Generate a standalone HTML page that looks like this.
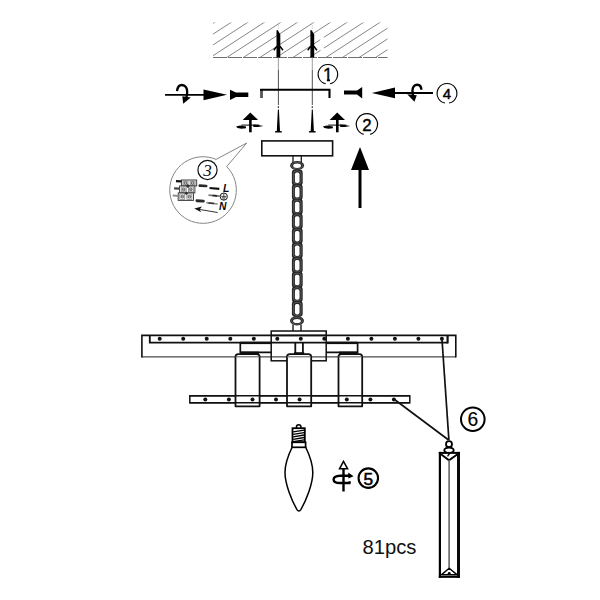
<!DOCTYPE html>
<html lang="en"><head><meta charset="utf-8"><title>Assembly diagram</title>
<style>
html,body{margin:0;padding:0;background:#fff;}
body{width:600px;height:600px;overflow:hidden;font-family:"Liberation Sans",sans-serif;}
svg{display:block;}
</style></head>
<body>
<svg width="600" height="600" viewBox="0 0 600 600">
<rect width="600" height="600" fill="#fff"/>
<defs><clipPath id="one"><path d="M315 60 H340 V78.3 H329.9 V84 H326.9 V78.3 H315 Z"/></clipPath><clipPath id="hc"><rect x="213" y="22.5" width="174.5" height="35"/></clipPath></defs>
<path clip-path="url(#hc)" d="M144.1 57.5 L204.1 18.5 M160.6 57.5 L220.6 18.5 M177.1 57.5 L237.1 18.5 M193.7 57.5 L253.7 18.5 M210.2 57.5 L270.2 18.5 M226.7 57.5 L286.7 18.5 M243.3 57.5 L303.3 18.5 M259.8 57.5 L319.8 18.5 M276.3 57.5 L336.3 18.5 M292.9 57.5 L352.9 18.5 M309.4 57.5 L369.4 18.5 M325.9 57.5 L385.9 18.5 M342.4 57.5 L402.4 18.5 M359.0 57.5 L419.0 18.5 M375.5 57.5 L435.5 18.5 M392.0 57.5 L452.0 18.5" stroke="#707070" stroke-width="0.85" fill="none"/>
<rect x="320.3" y="33" width="3.6" height="17.5" fill="#fff"/>
<line x1="213" y1="57.5" x2="387.5" y2="57.5" stroke="#6f6f6f" stroke-width="1" stroke-dasharray="14 1"/>
<path d="M276.5 57.5 L276.5 30.2 L277.6 30 L280.3 34.5 L280.3 57.5 Z" fill="#000"/>
<path d="M273.8 50.3 L276.9 46.3 M283.0 50.3 L279.9 46.3" stroke="#000" stroke-width="1.5" fill="none"/>
<line x1="278.4" y1="22.5" x2="278.4" y2="31" stroke="#bbb" stroke-width="0.7" stroke-dasharray="1.5 1"/>
<line x1="278.4" y1="57.5" x2="278.4" y2="70" stroke="#888" stroke-width="0.8"/>
<line x1="278.4" y1="70" x2="278.4" y2="105" stroke="#444" stroke-width="0.95"/>
<line x1="278.4" y1="106.3" x2="278.4" y2="108" stroke="#333" stroke-width="1.2"/>
<path d="M277.9 109.5 L278.9 109.5 L280.0 131 L281.8 131.3 L281.8 132.5 L275.0 132.5 L275.0 131.3 L276.8 131 Z" fill="#000"/>
<path d="M310.4 57.5 L310.4 30.2 L311.5 30 L314.2 34.5 L314.2 57.5 Z" fill="#000"/>
<path d="M307.7 50.3 L310.8 46.3 M316.9 50.3 L313.8 46.3" stroke="#000" stroke-width="1.5" fill="none"/>
<line x1="312.3" y1="22.5" x2="312.3" y2="31" stroke="#bbb" stroke-width="0.7" stroke-dasharray="1.5 1"/>
<line x1="312.3" y1="57.5" x2="312.3" y2="70" stroke="#888" stroke-width="0.8"/>
<line x1="312.3" y1="70" x2="312.3" y2="105" stroke="#444" stroke-width="0.95"/>
<line x1="312.3" y1="106.3" x2="312.3" y2="108" stroke="#333" stroke-width="1.2"/>
<path d="M311.8 109.5 L312.8 109.5 L313.9 131 L315.7 131.3 L315.7 132.5 L308.9 132.5 L308.9 131.3 L310.7 131 Z" fill="#000"/>
<line x1="261.5" y1="89" x2="261.5" y2="98" stroke="#555" stroke-width="2.8"/>
<path d="M260.1 89.8 L329.5 89.8 L329.5 98" stroke="#000" stroke-width="2.1" fill="none"/>
<line x1="165" y1="94.8" x2="206" y2="94.8" stroke="#000" stroke-width="1.8"/>
<path d="M203.5 89.4 L227 94.8 L203.5 100.2 Z" fill="#000"/>
<path d="M177 91.2 C177.5 86.5 180 85 182 85 C185.5 85 187.3 88.5 187.2 92 C187.1 94.5 186.8 96 186.4 97.5" stroke="#000" stroke-width="2.3" fill="none"/>
<path d="M182.3 96.3 L190.8 97.6 L183.2 103.8 Z" fill="#000"/>
<path d="M230 89.8 L236 92.6 L248.3 92.6 L248.3 97 L236 97 L230 100 Z" fill="#000"/>
<line x1="392" y1="93" x2="433" y2="93" stroke="#000" stroke-width="1.9"/>
<path d="M395 87.4 L371.8 92.9 L395 98.2 Z" fill="#000"/>
<path d="M421.4 89.8 C421.2 86.4 419.5 84.7 417.3 84.7 C414.2 84.7 412.5 87.5 412.5 90.5 C412.4 92.5 412.7 94 413 95.5" stroke="#000" stroke-width="2.4" fill="none"/>
<path d="M416.8 95.2 L407.2 94.2 L414.4 101.8 Z" fill="#000"/>
<path d="M362.2 87 L357 90.6 L344 90.6 L344 94.5 L357 94.5 L362.2 98.6 Z" fill="#000"/>
<path d="M250.3 112.6 L258.1 119.9 L242.7 119.9 Z" fill="#000"/>
<line x1="250.4" y1="119.5" x2="250.4" y2="132.3" stroke="#000" stroke-width="2.6"/>
<line x1="241.3" y1="125.1" x2="259.3" y2="125.1" stroke="#000" stroke-width="1"/>
<path d="M236.0 126.6 L240.0 125.5 L246.0 126.4 L246.0 128.3 L241.5 128.7 L237.5 127.9 Z" fill="#000"/>
<path d="M253.3 124.4 L258.0 124.9 L263.5 126 L258.0 126.9 L253.3 127 Z" fill="#000"/>
<path d="M337.2 112.6 L345.0 119.9 L329.6 119.9 Z" fill="#000"/>
<line x1="337.3" y1="119.5" x2="337.3" y2="132.3" stroke="#000" stroke-width="2.6"/>
<line x1="328.2" y1="125.1" x2="346.2" y2="125.1" stroke="#000" stroke-width="1"/>
<path d="M322.9 126.6 L326.9 125.5 L332.9 126.4 L332.9 128.3 L328.4 128.7 L324.4 127.9 Z" fill="#000"/>
<path d="M340.2 124.4 L344.9 124.9 L350.4 126 L344.9 126.9 L340.2 127 Z" fill="#000"/>
<path d="M330.09 83.80 A9.75 9.75 0 1 0 325.71 83.80" stroke="#000" stroke-width="1.1" fill="none"/>
<text x="327.9" y="80.9" font-family='"Liberation Sans", sans-serif' font-size="17.5" font-weight="normal" font-style="normal" text-anchor="middle" fill="#000" stroke="#000" stroke-width="0.3" clip-path="url(#one)">1</text>
<path d="M370.18 134.38 A10.6 10.6 0 1 0 363.62 134.38" stroke="#000" stroke-width="1.2" fill="none"/>
<text x="366.9" y="130.95" font-family='"Liberation Sans", sans-serif' font-size="16.8" font-weight="normal" font-style="normal" text-anchor="middle" fill="#000" stroke="#000" stroke-width="0.4">2</text>
<path d="M449.06 103.08 A9.9 9.9 0 1 0 444.94 103.08" stroke="#000" stroke-width="1.1" fill="none"/>
<text x="447" y="98.8" font-family='"Liberation Sans", sans-serif' font-size="15" font-weight="normal" font-style="normal" text-anchor="middle" fill="#000" stroke="#000" stroke-width="0.45">4</text>
<path d="M360 147 L369 170 L351 170 Z" fill="#000"/>
<line x1="360" y1="169" x2="360" y2="208" stroke="#000" stroke-width="3"/>
<path d="M216.1 159.4 L246.7 143 L226.7 166.6 A33.3 33.3 0 1 1 216.1 159.4 Z" stroke="#858585" stroke-width="1" fill="none"/>
<circle cx="207.5" cy="170" r="9.6" stroke="#111" stroke-width="1.2" fill="none"/>
<text x="207.5" y="175.82" font-family='"Liberation Serif", serif' font-size="17" font-weight="normal" font-style="italic" text-anchor="middle" fill="#111" stroke="#111" stroke-width="0">3</text>
<rect x="181.4" y="180" width="15.3" height="5.9" stroke="#2e2e2e" stroke-width="0.9" fill="#fafafa"/>
<rect x="183.0" y="181" width="5" height="3.9" stroke="#666" stroke-width="0.6" fill="#ececec"/>
<circle cx="185.5" cy="182.95" r="1.4" stroke="#333" stroke-width="0.7" fill="#f4f4f4"/>
<path d="M184.3 182.95 L186.7 182.95" stroke="#444" stroke-width="0.6"/>
<rect x="190.1" y="181" width="5" height="3.9" stroke="#666" stroke-width="0.6" fill="#ececec"/>
<circle cx="192.6" cy="182.95" r="1.4" stroke="#333" stroke-width="0.7" fill="#f4f4f4"/>
<path d="M191.4 182.95 L193.8 182.95" stroke="#444" stroke-width="0.6"/>
<rect x="179.6" y="185.9" width="15.3" height="7" stroke="#2e2e2e" stroke-width="0.9" fill="#fafafa"/>
<rect x="181.2" y="186.9" width="5" height="5" stroke="#666" stroke-width="0.6" fill="#ececec"/>
<circle cx="183.7" cy="189.4" r="1.4" stroke="#333" stroke-width="0.7" fill="#f4f4f4"/>
<path d="M182.5 189.4 L184.9 189.4" stroke="#444" stroke-width="0.6"/>
<rect x="188.3" y="186.9" width="5" height="5" stroke="#666" stroke-width="0.6" fill="#ececec"/>
<circle cx="190.8" cy="189.4" r="1.4" stroke="#333" stroke-width="0.7" fill="#f4f4f4"/>
<path d="M189.6 189.4 L192 189.4" stroke="#444" stroke-width="0.6"/>
<rect x="178.2" y="192.9" width="15.3" height="7.5" stroke="#2e2e2e" stroke-width="0.9" fill="#fafafa"/>
<rect x="179.8" y="193.9" width="5" height="5.5" stroke="#666" stroke-width="0.6" fill="#ececec"/>
<circle cx="182.3" cy="196.65" r="1.4" stroke="#333" stroke-width="0.7" fill="#f4f4f4"/>
<path d="M181.1 196.65 L183.5 196.65" stroke="#444" stroke-width="0.6"/>
<rect x="186.9" y="193.9" width="5" height="5.5" stroke="#666" stroke-width="0.6" fill="#ececec"/>
<circle cx="189.4" cy="196.65" r="1.4" stroke="#333" stroke-width="0.7" fill="#f4f4f4"/>
<path d="M188.2 196.65 L190.6 196.65" stroke="#444" stroke-width="0.6"/>
<path d="M187.9 183.9 L189.9 185.9 L187.9 187.9 L185.9 185.9 Z M186.3 191.7 L188.1 193.4 L186.3 195.1 L184.5 193.4 Z" fill="#333"/>
<line x1="176" y1="181.1" x2="181.4" y2="181.3" stroke="#111" stroke-width="2.3"/>
<line x1="174.1" y1="188.4" x2="179.6" y2="188.6" stroke="#444" stroke-width="2.1"/>
<line x1="172.7" y1="195.5" x2="178.2" y2="195.8" stroke="#8a8a8a" stroke-width="1.8"/>
<line x1="199.8" y1="185.7" x2="206.2" y2="186" stroke="#2a2a2a" stroke-width="2.7" stroke-linecap="round"/>
<line x1="209.5" y1="188" x2="219.3" y2="188.9" stroke="#111" stroke-width="2.1"/>
<line x1="208.5" y1="195.2" x2="219.8" y2="196.1" stroke="#777" stroke-width="1.7"/>
<line x1="212.5" y1="195.5" x2="217" y2="195.9" stroke="#222" stroke-width="1.7"/>
<line x1="196.9" y1="200.7" x2="203.4" y2="201.1" stroke="#2a2a2a" stroke-width="2.9" stroke-linecap="round"/>
<line x1="206.3" y1="202.7" x2="217.7" y2="204" stroke="#888" stroke-width="1.7"/>
<line x1="208.5" y1="203" x2="214" y2="203.6" stroke="#333" stroke-width="1.5"/>
<text x="223" y="191.8" font-family='"Liberation Sans", sans-serif' font-size="10.5" font-weight="bold" font-style="italic" fill="#0a0a0a">L</text>
<text x="218.9" y="210" font-family='"Liberation Sans", sans-serif' font-size="10.3" font-weight="bold" font-style="italic" fill="#0a0a0a">N</text>
<circle cx="223.8" cy="196.6" r="3.6" stroke="#1a1a1a" stroke-width="1" fill="none"/>
<path d="M223.8 193.4 L223.8 196.4 M221.2 196.4 L226.4 196.4 M221.9 197.8 L225.7 197.8 M222.8 199.1 L224.8 199.1" stroke="#1a1a1a" stroke-width="0.8" fill="none"/>
<path d="M217.7 212.5 L198 209.2" stroke="#333" stroke-width="1" fill="none"/>
<path d="M194.3 208.6 L202 206.6 L199.6 209.5 L201.2 212.2 Z" fill="#111"/>
<rect x="261.8" y="140.9" width="70.8" height="14.9" stroke="#111" stroke-width="1.6" fill="#fff"/>
<path d="M293 156 L293 163 M301.3 156 L301.3 163" stroke="#1a1a1a" stroke-width="1.3" fill="none"/>
<ellipse cx="297.1" cy="165.6" rx="7" ry="4.6" fill="#262626"/>
<ellipse cx="297.1" cy="165.8" rx="3.9" ry="2.2" fill="#fff"/>
<ellipse cx="297.1" cy="165.6" rx="5.5" ry="3.4" stroke="#8a8a8a" stroke-width="0.5" fill="none"/>
<rect x="292.8" y="171" width="9" height="144" fill="#262626"/>
<rect x="291.9" y="169.6" width="10.8" height="15.8" rx="3.2" ry="3.2" fill="#262626"/>
<rect x="294.9" y="172.5" width="4.6" height="10.5" rx="1.8" ry="1.8" fill="#fff"/>
<rect x="293.4" y="171.0" width="7.7" height="13" rx="2.7" ry="2.7" stroke="#8a8a8a" stroke-width="0.5" fill="none"/>
<rect x="291.9" y="184.2" width="10.8" height="15.8" rx="3.2" ry="3.2" fill="#262626"/>
<rect x="294.9" y="187.1" width="4.6" height="10.5" rx="1.8" ry="1.8" fill="#fff"/>
<rect x="293.4" y="185.6" width="7.7" height="13" rx="2.7" ry="2.7" stroke="#8a8a8a" stroke-width="0.5" fill="none"/>
<rect x="291.9" y="198.8" width="10.8" height="15.8" rx="3.2" ry="3.2" fill="#262626"/>
<rect x="294.9" y="201.7" width="4.6" height="10.5" rx="1.8" ry="1.8" fill="#fff"/>
<rect x="293.4" y="200.2" width="7.7" height="13" rx="2.7" ry="2.7" stroke="#8a8a8a" stroke-width="0.5" fill="none"/>
<rect x="291.9" y="213.4" width="10.8" height="15.8" rx="3.2" ry="3.2" fill="#262626"/>
<rect x="294.9" y="216.3" width="4.6" height="10.5" rx="1.8" ry="1.8" fill="#fff"/>
<rect x="293.4" y="214.8" width="7.7" height="13" rx="2.7" ry="2.7" stroke="#8a8a8a" stroke-width="0.5" fill="none"/>
<rect x="291.9" y="228.0" width="10.8" height="15.8" rx="3.2" ry="3.2" fill="#262626"/>
<rect x="294.9" y="230.9" width="4.6" height="10.5" rx="1.8" ry="1.8" fill="#fff"/>
<rect x="293.4" y="229.4" width="7.7" height="13" rx="2.7" ry="2.7" stroke="#8a8a8a" stroke-width="0.5" fill="none"/>
<rect x="291.9" y="242.6" width="10.8" height="15.8" rx="3.2" ry="3.2" fill="#262626"/>
<rect x="294.9" y="245.5" width="4.6" height="10.5" rx="1.8" ry="1.8" fill="#fff"/>
<rect x="293.4" y="244.0" width="7.7" height="13" rx="2.7" ry="2.7" stroke="#8a8a8a" stroke-width="0.5" fill="none"/>
<rect x="291.9" y="257.2" width="10.8" height="15.8" rx="3.2" ry="3.2" fill="#262626"/>
<rect x="294.9" y="260.1" width="4.6" height="10.5" rx="1.8" ry="1.8" fill="#fff"/>
<rect x="293.4" y="258.6" width="7.7" height="13" rx="2.7" ry="2.7" stroke="#8a8a8a" stroke-width="0.5" fill="none"/>
<rect x="291.9" y="271.8" width="10.8" height="15.8" rx="3.2" ry="3.2" fill="#262626"/>
<rect x="294.9" y="274.7" width="4.6" height="10.5" rx="1.8" ry="1.8" fill="#fff"/>
<rect x="293.4" y="273.2" width="7.7" height="13" rx="2.7" ry="2.7" stroke="#8a8a8a" stroke-width="0.5" fill="none"/>
<rect x="291.9" y="286.4" width="10.8" height="15.8" rx="3.2" ry="3.2" fill="#262626"/>
<rect x="294.9" y="289.3" width="4.6" height="10.5" rx="1.8" ry="1.8" fill="#fff"/>
<rect x="293.4" y="287.8" width="7.7" height="13" rx="2.7" ry="2.7" stroke="#8a8a8a" stroke-width="0.5" fill="none"/>
<rect x="291.9" y="301.0" width="10.8" height="15.8" rx="3.2" ry="3.2" fill="#262626"/>
<rect x="294.9" y="303.9" width="4.6" height="10.5" rx="1.8" ry="1.8" fill="#fff"/>
<rect x="293.4" y="302.4" width="7.7" height="13" rx="2.7" ry="2.7" stroke="#8a8a8a" stroke-width="0.5" fill="none"/>
<ellipse cx="297" cy="320.8" rx="7" ry="4.7" fill="#262626"/>
<ellipse cx="297" cy="321" rx="3.9" ry="2.1" fill="#fff"/>
<ellipse cx="297" cy="320.8" rx="5.5" ry="3.4" stroke="#8a8a8a" stroke-width="0.5" fill="none"/>
<path d="M293 324.6 L293 331 M301 324.6 L301 331" stroke="#1a1a1a" stroke-width="1.4" fill="none"/>
<line x1="141.8" y1="356.8" x2="455.8" y2="356.8" stroke="#4a4a4a" stroke-width="1.25"/>
<path d="M141.9 357.6 L141.9 335.4 L455.8 335.4 L455.8 357.6" stroke="#111" stroke-width="1.6" fill="none"/>
<rect x="271.2" y="331" width="55" height="29.8" stroke="#111" stroke-width="1.5" fill="none"/>
<line x1="271" y1="335.4" x2="326.8" y2="335.4" stroke="#111" stroke-width="1.5"/>
<path d="M149.8 335.3 L149.8 342.6 L448 342.6" stroke="#111" stroke-width="1.85" fill="none"/>
<line x1="447.6" y1="335.3" x2="447.6" y2="343.4" stroke="#111" stroke-width="2.2"/>
<path d="M271.2 352.4 L240.3 352.4 L240.3 342.7" stroke="#111" stroke-width="1.7" fill="none"/>
<path d="M326.2 352.4 L357.6 352.4 L357.6 342.7" stroke="#111" stroke-width="1.7" fill="none"/>
<line x1="240.3" y1="352.9" x2="259" y2="352.9" stroke="#111" stroke-width="2.6"/>
<line x1="339" y1="352.9" x2="357.6" y2="352.9" stroke="#111" stroke-width="2.6"/>
<line x1="240.3" y1="342.9" x2="271" y2="342.9" stroke="#111" stroke-width="2.4"/>
<line x1="326.2" y1="342.9" x2="357.6" y2="342.9" stroke="#111" stroke-width="2.4"/>
<path d="M295.3 342.7 L295.3 353 M302.9 342.7 L302.9 353" stroke="#111" stroke-width="1.8" fill="none"/>
<line x1="294" y1="353.2" x2="304.2" y2="353.2" stroke="#111" stroke-width="2"/>
<rect x="189.8" y="395.8" width="220" height="7" stroke="#111" stroke-width="1.5" fill="none"/>
<path d="M235.5 406.3 L235.5 357 Q235.5 354.2 238.3 354.2 L256.8 354.2 Q259.6 354.2 259.6 357 L259.6 406.3 Z" stroke="#111" stroke-width="1.8" fill="#fff" stroke-linejoin="round"/>
<path d="M287 406.3 L287 357 Q287 354.2 289.8 354.2 L308.4 354.2 Q311.2 354.2 311.2 357 L311.2 406.3 Z" stroke="#111" stroke-width="1.8" fill="#fff" stroke-linejoin="round"/>
<path d="M338.5 406.3 L338.5 357 Q338.5 354.2 341.3 354.2 L359.4 354.2 Q362.2 354.2 362.2 357 L362.2 406.3 Z" stroke="#111" stroke-width="1.8" fill="#fff" stroke-linejoin="round"/>
<line x1="235.5" y1="356.8" x2="259.6" y2="356.8" stroke="#666" stroke-width="1.1"/>
<line x1="287" y1="356.8" x2="311.2" y2="356.8" stroke="#666" stroke-width="1.1"/>
<line x1="338.5" y1="356.8" x2="362.2" y2="356.8" stroke="#666" stroke-width="1.1"/>
<path d="M189.8 395.8 L409.8 395.8 M189.8 402.8 L409.8 402.8" stroke="#111" stroke-width="1.5" fill="none"/>
<circle cx="159.7" cy="338.7" r="2" fill="#111"/>
<circle cx="183.2" cy="338.7" r="2" fill="#111"/>
<circle cx="206.7" cy="338.7" r="2" fill="#111"/>
<circle cx="230.3" cy="338.7" r="2" fill="#111"/>
<circle cx="253.8" cy="338.7" r="2" fill="#111"/>
<circle cx="277.3" cy="338.7" r="2" fill="#111"/>
<circle cx="300.8" cy="338.7" r="2" fill="#111"/>
<circle cx="324.3" cy="338.7" r="2" fill="#111"/>
<circle cx="347.9" cy="338.7" r="2" fill="#111"/>
<circle cx="371.4" cy="338.7" r="2" fill="#111"/>
<circle cx="394.9" cy="338.7" r="2" fill="#111"/>
<circle cx="418.4" cy="338.7" r="2" fill="#111"/>
<circle cx="441.9" cy="338.7" r="2" fill="#111"/>
<circle cx="205.3" cy="399.6" r="2" fill="#111"/>
<circle cx="228.9" cy="399.6" r="2" fill="#111"/>
<circle cx="252.5" cy="399.6" r="2" fill="#111"/>
<circle cx="276.0" cy="399.6" r="2" fill="#111"/>
<circle cx="299.6" cy="399.6" r="2" fill="#111"/>
<circle cx="346.8" cy="399.6" r="2" fill="#111"/>
<circle cx="370.4" cy="399.6" r="2" fill="#111"/>
<circle cx="393.9" cy="399.6" r="2" fill="#111"/>
<line x1="442" y1="339.5" x2="448.9" y2="440" stroke="#111" stroke-width="1.7"/>
<line x1="394.5" y1="399.5" x2="448.6" y2="440" stroke="#111" stroke-width="1.7"/>
<circle cx="449" cy="444.2" r="3" stroke="#000" stroke-width="1.8" fill="#fff"/>
<ellipse cx="449" cy="450.2" rx="4.7" ry="2.7" stroke="#000" stroke-width="1.9" fill="#fff"/>
<rect x="439.9" y="452.9" width="18.6" height="123.8" stroke="none" fill="#fff"/>
<line x1="439.9" y1="451.9" x2="439.9" y2="577.8" stroke="#000" stroke-width="2.2"/>
<line x1="458.5" y1="451.9" x2="458.5" y2="577.8" stroke="#0a0a0a" stroke-width="3"/>
<line x1="438.8" y1="452.9" x2="460" y2="452.9" stroke="#000" stroke-width="2"/>
<line x1="438.8" y1="576.7" x2="460" y2="576.7" stroke="#000" stroke-width="2.3"/>
<path d="M441 454.3 L449 460.3 L457.5 454.3" stroke="#000" stroke-width="1.9" fill="none"/>
<path d="M449.5 453.5 L447.5 456.3" stroke="#000" stroke-width="1.3" fill="none"/>
<line x1="449.1" y1="460" x2="449.1" y2="568" stroke="#666" stroke-width="1.6"/>
<path d="M441.6 574.6 L449.2 568.3 L456.9 574.6 Z" stroke="#000" stroke-width="1.4" fill="none" stroke-linejoin="round"/>
<circle cx="449.2" cy="573.3" r="1.4" fill="#000"/>
<circle cx="472.8" cy="419.2" r="11.8" stroke="#000" stroke-width="2.0" fill="none"/>
<text x="472.8" y="426.25" font-family='"Liberation Sans", sans-serif' font-size="19.3" font-weight="normal" font-style="normal" text-anchor="middle" fill="#000" stroke="#000" stroke-width="0.15">6</text>
<circle cx="368.3" cy="478.1" r="9.75" stroke="#000" stroke-width="2.1" fill="none"/>
<text x="368.3" y="484.53" font-family='"Liberation Sans", sans-serif' font-size="17.3" font-weight="normal" font-style="normal" text-anchor="middle" fill="#000" stroke="#000" stroke-width="0.55">5</text>
<line x1="343.5" y1="468.5" x2="343.5" y2="491.5" stroke="#000" stroke-width="2.4"/>
<path d="M343.5 461.3 L347.6 468.8 L339.5 468.8 Z" stroke="#000" stroke-width="1.5" fill="#fff" stroke-linejoin="miter"/>
<path d="M350 475.8 L340 475.8 C335.5 476 333.6 478 333.6 479.5 C333.6 481.5 336 483 340 483 L349.5 483 L349.8 481.3" stroke="#000" stroke-width="2.4" fill="none"/>
<path d="M348.3 472.6 L353.6 476.2 L348.3 478.4 Z" fill="#000"/>
<path d="M292.1 447.25 C289.3 453 285 462 285 472.5 C285 484 291.5 500 296.8 509.3 Q298.9 512.6 301.0 509.3 C306.3 500 312.8 484 312.8 472.5 C312.8 462 308.5 453 305.7 447.25 Z" stroke="#000" stroke-width="1.5" fill="#fff"/>
<circle cx="298.7" cy="427" r="2.3" stroke="#000" stroke-width="1.5" fill="#fff"/>
<rect x="292.5" y="428.2" width="12.3" height="14" stroke="#000" stroke-width="1.8" fill="#fff"/>
<path d="M293.2 431.9 L304.2 430.1 M293.2 434.4 L304.2 432.6 M293.2 436.8 L304.2 435.0 M293.2 439.3 L304.2 437.5 M293.2 441.7 L304.2 439.9" stroke="#000" stroke-width="1.35" fill="none"/>
<rect x="292" y="442.3" width="13.6" height="5" stroke="#000" stroke-width="1.7" fill="#fff"/>
<text x="362.5" y="553.7" font-family='"Liberation Sans", sans-serif' font-size="19.5" fill="#111" textLength="54" lengthAdjust="spacingAndGlyphs">81pcs</text>
</svg>
</body></html>
